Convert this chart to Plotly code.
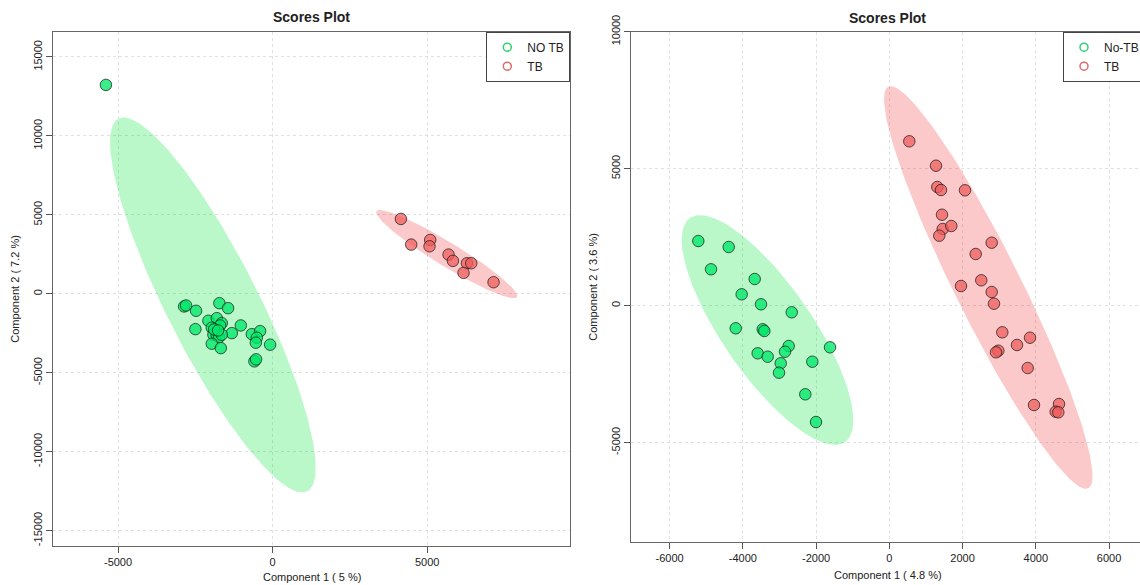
import numpy as np
import plotly.graph_objects as go

# ---------------- data ----------------
left_notb_x = [-5392, -2864, -2799, -2476, -1722, -1440, -2498, -2078, -1806, -1644,
               -1699, -1968, -1916, -1806, -1731, -1320, -1029, -1968, -1676, -673,
               -405, -511, -544, -81, -589, -534, -1644, -1893, -1764]
left_notb_y = [13230, -803, -740, -1075, -594, -910, -2238, -1707, -1542, -1858,
               -2004, -2149, -2592, -2636, -2743, -2491, -2004, -3161, -3439, -2554,
               -2364, -2781, -3097, -3224, -4279, -4153, -2592, -2257, -2320]
left_tb_x = [4149, 4482, 5097, 5075, 5690, 5832, 6285, 6424, 6175, 7146]
left_tb_y = [4741, 3116, 3413, 3009, 2484, 2086, 1934, 1934, 1327, 733]

right_notb_x = [-5216, -4386, -4869, -3676, -4031, -3504, -2665, -4194, -3457, -3413,
                -2747, -2848, -1619, -3594, -3321, -2966, -2103, -3012, -2294, -2002]
right_notb_y = [2361, 2142, 1328, 974, 416, 51, -241, -825, -861, -923,
                -1471, -1679, -1518, -1737, -1861, -2102, -2044, -2445, -3234, -4245]
right_tb_x = [546, 1275, 1311, 1412, 2067, 1439, 1458, 1693, 1365, 2796, 2359, 2512, 1958,
              2796, 2859, 3086, 3842, 3487, 2977, 2914, 3779, 3951, 4634, 4544, 4615]
right_tb_y = [6000, 5109, 4332, 4223, 4212, 3321, 2799, 2909, 2555, 2299, 1887, 927, 719,
              500, 73, -971, -1168, -1434, -1642, -1701, -2274, -3624, -3588, -3869, -3891]

# 95% confidence ellipses: centre and two conjugate semi-diameters (data units)
ell_left_notb = dict(c=(-1932, -708), u=(-3049, 11802), v=(1329, 1310))
ell_left_tb = dict(c=(5631, 2516), u=(2272, -2718), v=(-203, -647))
ell_right_notb = dict(c=(-3326, -887), u=(2116, -4088), v=(-1008, -932))
ell_right_tb = dict(c=(2703, 664), u=(2731, -7328), v=(-806, -537))

left_labels = ["NO TB", "TB"]
right_labels = ["No-TB", "TB"]
left_xticks = [-5000, 0, 5000]
left_yticks = [-15000, -10000, -5000, 0, 5000, 10000, 15000]
right_xticks = [-6000, -4000, -2000, 0, 2000, 4000, 6000]
right_yticks = [-5000, 0, 5000, 10000]
left_xtitle, left_ytitle = "Component 1 ( 5 %)", "Component 2 ( 7.2 %)"
right_xtitle, right_ytitle = "Component 1 ( 4.8 %)", "Component 2 ( 3.6 %)"
plot_title = "Scores Plot"

# ---------------- styling ----------------
W, H = 1140, 585
FONT = "Liberation Sans, Arial, sans-serif"
GREEN_PT = "rgba(0,232,105,0.78)"
RED_PT = "rgba(240,90,90,0.72)"
GREEN_ELL = "rgba(0,230,60,0.27)"
RED_ELL = "rgba(240,60,60,0.28)"
GREEN_LEG = "#2fd070"
RED_LEG = "#e06a6a"
OUTLINE = "rgba(20,20,20,0.7)"


def px(v, total):
    return v / total


def ellipse_xy(e, n=200):
    t = np.linspace(0, 2 * np.pi, n)
    x = e["c"][0] + np.cos(t) * e["u"][0] + np.sin(t) * e["v"][0]
    y = e["c"][1] + np.cos(t) * e["u"][1] + np.sin(t) * e["v"][1]
    return x, y


fig = go.Figure()


def add_panel(xa, ya, ells, pts, labels, legend_name):
    for e, col in zip(ells, [GREEN_ELL, RED_ELL]):
        ex, ey = ellipse_xy(e)
        fig.add_trace(go.Scatter(x=ex, y=ey, mode="lines", fill="toself",
                                 fillcolor=col, line=dict(width=0),
                                 hoverinfo="skip", showlegend=False,
                                 xaxis=xa, yaxis=ya))
    for (x, y), col, lab in zip(pts, [GREEN_PT, RED_PT], labels):
        fig.add_trace(go.Scatter(x=x, y=y, mode="markers", name=lab,
                                 marker=dict(size=11.5, color=col,
                                             line=dict(color=OUTLINE, width=1)),
                                 showlegend=False, xaxis=xa, yaxis=ya))
    for col, lab in zip([GREEN_LEG, RED_LEG], labels):
        fig.add_trace(go.Scatter(x=[None], y=[None], mode="markers", name=lab,
                                 marker=dict(symbol="circle-open", size=8, color=col,
                                             line=dict(width=1.5, color=col)),
                                 legend=legend_name, xaxis=xa, yaxis=ya))


add_panel("x", "y", [ell_left_notb, ell_left_tb],
          [(left_notb_x, left_notb_y), (left_tb_x, left_tb_y)], left_labels, "legend")
add_panel("x2", "y2", [ell_right_notb, ell_right_tb],
          [(right_notb_x, right_notb_y), (right_tb_x, right_tb_y)], right_labels, "legend2")

axis_common = dict(showgrid=True, gridcolor="#e0e0e0", griddash="dot", gridwidth=1,
                   zeroline=False, ticks="outside", ticklen=6, tickcolor="#555",
                   tickfont=dict(family=FONT, size=11, color="#222"),
                   linecolor="#666", linewidth=1.2, showline=True, tickmode="array")


def tick_text(vals):
    return [str(v) for v in vals]


# pixel geometry of the plot boxes
L_left, L_right, L_top, L_bot = 53.2, 570.3, 31.7, 545.7
R_left, R_top, R_bot = 631.4, 31.7, 541.7

legend_common = dict(yanchor="top", bgcolor="white", bordercolor="#444", borderwidth=1,
                     font=dict(family=FONT, size=12, color="#222"), itemwidth=30,
                     tracegroupgap=0)

fig.update_layout(
    width=W, height=H,
    margin=dict(l=0, r=0, t=0, b=0, autoexpand=False),
    paper_bgcolor="white", plot_bgcolor="white",
    font=dict(family=FONT, color="#222"),
    xaxis=dict(axis_common, domain=[px(L_left, W), px(L_right, W)],
               range=[-7097, 9628], tickvals=left_xticks, ticktext=tick_text(left_xticks),
               mirror=True, anchor="y"),
    yaxis=dict(axis_common, domain=[1 - px(L_bot, H), 1 - px(L_top, H)],
               range=[-15954, 16600], tickvals=left_yticks, ticktext=tick_text(left_yticks),
               mirror=True, tickangle=-90, anchor="x"),
    xaxis2=dict(axis_common, domain=[px(R_left, W), 1.0],
                range=[-7043, 6846], tickvals=right_xticks, ticktext=tick_text(right_xticks),
                mirror=True, anchor="y2"),
    yaxis2=dict(axis_common, domain=[1 - px(R_bot, H), 1 - px(R_top, H)],
                range=[-8613, 10000], tickvals=right_yticks, ticktext=tick_text(right_yticks),
                mirror=False, tickangle=-90, anchor="x2"),
    legend=dict(legend_common, x=px(L_right, W), xanchor="right", y=1 - px(L_top, H)),
    legend2=dict(legend_common, x=px(1063, W), xanchor="left", y=1 - px(R_top, H)),
)

ann = []
ann.append(dict(text="<b>%s</b>" % plot_title, x=px((L_left + L_right) / 2, W), y=1 - px(17, H),
                font=dict(family=FONT, size=14, color="#222")))
ann.append(dict(text="<b>%s</b>" % plot_title, x=px(887, W), y=1 - px(18, H),
                font=dict(family=FONT, size=14, color="#222")))
ann.append(dict(text=left_xtitle, x=px((L_left + L_right) / 2, W), y=1 - px(577, H),
                font=dict(family=FONT, size=11, color="#222")))
ann.append(dict(text=right_xtitle, x=px(888, W), y=1 - px(575, H),
                font=dict(family=FONT, size=11, color="#222")))
ann.append(dict(text=left_ytitle, x=px(15, W), y=1 - px((L_top + L_bot) / 2, H),
                textangle=-90, font=dict(family=FONT, size=11, color="#222")))
ann.append(dict(text=right_ytitle, x=px(593, W), y=1 - px((R_top + R_bot) / 2, H),
                textangle=-90, font=dict(family=FONT, size=11, color="#222")))
for a in ann:
    a.update(xref="paper", yref="paper", showarrow=False, xanchor="center", yanchor="middle")
fig.update_layout(annotations=ann)

# remove the default page margin so the 1140x585 figure fills the window exactly
fig.write_html("out.html", config={"displayModeBar": False},
               post_script="document.body.style.margin='0px';document.body.style.overflow='hidden';")
